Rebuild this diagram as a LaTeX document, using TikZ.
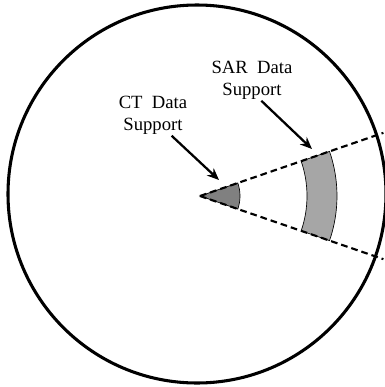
\documentclass[tikz,border=0pt]{standalone}
\usepackage{fontspec}
\setmainfont{Liberation Serif}
\usetikzlibrary{arrows.meta,calc}
\definecolor{ctfill}{RGB}{128,128,128}
\definecolor{sarfill}{RGB}{166,166,166}
\tikzset{
  lbl/.style={font=\fontsize{14}{16.5}\selectfont, align=center, inner sep=1pt},
  pointer/.style={line width=1.7pt, -{Stealth[length=9pt,width=7.5pt]}},
  ray/.style={line width=1.6pt, dash pattern=on 5pt off 3pt},
  region/.style={draw=black, line width=0.5pt},
  rim/.style={line width=2.3pt}
}
\begin{document}
\begin{tikzpicture}[x=0.75pt,y=-0.75pt]
  \useasboundingbox (0,0) rectangle (385,387);
  % outer boundary
  \draw[rim] (197,194) circle[radius=189];
  % apex of the sector and the ray ends
  \coordinate (apex) at (200,196);
  \coordinate (rayA) at ($(apex)+(-19:194)$);
  \coordinate (rayB) at ($(apex)+(19:194)$);
  % CT wedge
  \filldraw[region, fill=ctfill] (apex) -- ($(apex)+(-19:40)$)
    arc[start angle=-19, end angle=19, radius=40] -- cycle;
  % SAR band
  \filldraw[region, fill=sarfill] ($(apex)+(-19:107)$)
    arc[start angle=-19, end angle=19, radius=107]
    -- ($(apex)+(19:137)$)
    arc[start angle=19, end angle=-19, radius=137] -- cycle;
  % dashed rays
  \draw[ray] (apex) -- (rayA);
  \draw[ray] (apex) -- (rayB);
  % labels
  \node[lbl] (ct) at (153,115) {CT\ \ Data\\Support};
  \node[lbl] (sar) at (252,80) {SAR\ \ Data\\Support};
  \coordinate (cttip) at (219,180);
  \coordinate (sartip) at (312,149);
  \draw[pointer] ([xshift=14pt]ct.south) -- (cttip);
  \draw[pointer] ([xshift=7pt]sar.south) -- (sartip);
\end{tikzpicture}
\end{document}
